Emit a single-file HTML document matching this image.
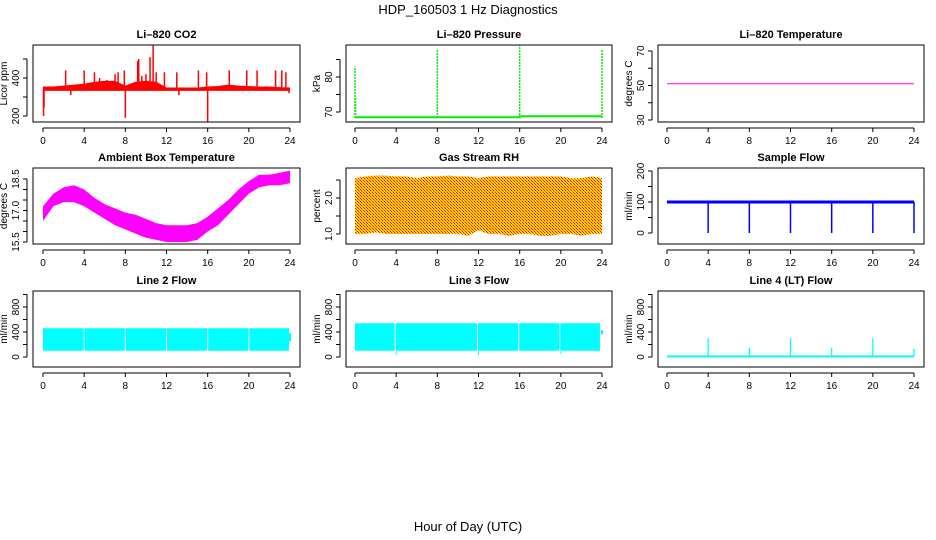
<!DOCTYPE html>
<html><head><meta charset="utf-8"><style>
html,body{margin:0;padding:0;background:#fff}
svg{display:block;font-family:"Liberation Sans",Arial,sans-serif}
</style></head><body>
<svg id="chart" width="936" height="540" viewBox="0 0 936 540" xmlns="http://www.w3.org/2000/svg">
<defs>
<pattern id="rhpat" width="3" height="3" patternUnits="userSpaceOnUse">
<rect width="3" height="3" fill="#ffdd00"/><rect width="1" height="1" fill="#ff0000"/><rect x="1" y="1" width="1" height="1" fill="#ff0000"/><rect x="2" y="2" width="1" height="1" fill="#ff6600"/>
</pattern>
</defs>
<text x="468" y="14" font-size="13" text-anchor="middle">HDP_160503  1 Hz Diagnostics</text>
<text x="468" y="531" font-size="13" text-anchor="middle">Hour of Day (UTC)</text>
<g id="panels"></g>
</svg>
<script>
// ---- data ----
const hourTicks = [0,4,8,12,16,20,24];
const co2Base = 340;
const co2SpikeHours = [0.05,0.1,2.2,2.7,4,5,5.5,6.2,7,7.3,7.9,8,9.2,9.3,9.6,10,10.4,10.7,11,11.8,13,13.2,15.1,15.9,16,18.1,19.8,20.8,22.6,23.2,23.6,23.9];
const co2SpikeValues = [200,245,440,310,440,430,400,390,420,430,440,190,490,500,410,420,510,570,430,430,430,310,440,430,170,440,440,440,440,440,430,320];
const co2UpperHours = [0,1,2,3,4,5,6,7,8,9,10,11,12,13,14,15,16,17,18,19,20,21,22,23,24];
const co2UpperValues = [355,355,360,365,370,380,385,385,360,380,385,380,350,350,350,350,355,358,365,360,358,355,355,352,350];
const presHours = [0,16,16,24];
const presValues = [68.5,68.5,68.8,68.8];
const presSpikeHours = [0,0.05,8,16,24];
const presSpikeValues = [83,74,88,89,88];
const tempValue = 51;
const ambHours = [0,1,2,3,4,5,6,7,8,9,10,11,12,13,14,15,16,17,18,19,20,21,22,23,24];
const ambMin = [16.5,17.2,17.4,17.4,17.2,16.9,16.6,16.3,16.1,15.9,15.7,15.6,15.5,15.5,15.5,15.6,16.0,16.3,16.8,17.3,17.8,18.1,18.2,18.2,18.3];
const ambMax = [17.2,17.8,18.1,18.2,18.0,17.6,17.3,17.1,16.9,16.8,16.6,16.4,16.3,16.3,16.3,16.4,16.7,17.1,17.5,18.0,18.4,18.7,18.7,18.8,18.9];
const rhHours = [0,1,2,3,4,5,6,7,8,9,10,11,12,13,14,15,16,17,18,19,20,21,22,23,24];
const rhUpper = [2.55,2.6,2.62,2.62,2.6,2.6,2.55,2.6,2.6,2.62,2.6,2.6,2.55,2.6,2.6,2.6,2.6,2.6,2.6,2.6,2.6,2.55,2.55,2.6,2.55];
const rhLower = [1.0,1.0,1.05,1.0,1.0,1.0,1.0,1.0,1.0,1.0,1.0,0.95,1.1,1.0,1.0,0.95,1.0,1.0,0.95,0.95,1.0,1.0,0.95,1.0,1.0];
const flowBase = 100;
const flowDropHours = [4,8,12,16,20,24];
const flowDropValues = [0,0,0,0,0,0];
const line2Low = 100, line2High = 460;
const line2GapHours = [4,8,12,16,20];
const line3Low = 100, line3High = 540;
const line3GapHours = [4,12,16,20];
const line3DipValues = [30,30,100,50];
const line4Base = 10;
const line4SpikeHours = [4,8,12,16,20,24];
const line4SpikeValues = [300,150,300,150,300,130];

// ---- helpers ----
const NS = "http://www.w3.org/2000/svg";
const root = document.getElementById('panels');
function mk(tag, attrs, parent){const e=document.createElementNS(NS,tag);for(const k in attrs)e.setAttribute(k,attrs[k]);(parent||root).appendChild(e);return e;}
const cols = [{bx0:33,bx1:300,x0:43,x24:290},{bx0:346,bx1:612,x0:355,x24:602},{bx0:658,bx1:924,x0:667,x24:914}];
const rows = [{by0:45,by1:122},{by0:168,by1:244},{by0:291,by1:367}];

function panel(name, title, ci, ri, ylab, yA, pA, yB, pB, ticks, labels){
  const c=cols[ci], r=rows[ri];
  const g=mk('g',{});
  
  
  const X=h=>c.x0+(h/24)*(c.x24-c.x0);
  const Y=v=>pA+(v-yA)*(pB-pA)/(yB-yA);
  const t=mk('text',{x:(c.bx0+c.bx1)/2,y:r.by0-7,'font-size':11,'font-weight':'bold','text-anchor':'middle'},g);
  t.textContent=title;
  
  
  const ax=mk('g',{stroke:'#000','stroke-width':1,fill:'none'},g);
  
  
  const ay=r.by1+6;
  mk('line',{x1:X(0),x2:X(24),y1:ay,y2:ay},ax);
  hourTicks.forEach(h=>{
    mk('line',{x1:X(h),x2:X(h),y1:ay,y2:ay+4},ax);
    const tl=mk('text',{x:X(h),y:ay+16,'font-size':10,'text-anchor':'middle',fill:'#000',stroke:'none'},g);
    tl.textContent=h;
    
    
  });
  const yax=mk('g',{stroke:'#000','stroke-width':1,fill:'none'},g);
  
  
  const axx=c.bx0-6;
  mk('line',{x1:axx,x2:axx,y1:Y(ticks[0]),y2:Y(ticks[ticks.length-1])},yax);
  ticks.forEach(v=>mk('line',{x1:axx-4,x2:axx,y1:Y(v),y2:Y(v)},yax));
  labels.forEach(v=>{
    const tl=mk('text',{x:0,y:0,'font-size':10,'text-anchor':'middle',transform:`translate(${axx-8},${Y(parseFloat(v))}) rotate(-90)`},g);
    tl.textContent=v;
    
    
  });
  const yl=mk('text',{x:0,y:0,'font-size':10,'text-anchor':'middle',transform:`translate(${axx-20},${(r.by0+r.by1)/2}) rotate(-90)`},g);
  yl.textContent=ylab;
  
  
  const data=mk('g',{},g);
  
  
  const box=mk('rect',{x:c.bx0,y:r.by0,width:c.bx1-c.bx0,height:r.by1-r.by0,fill:'none',stroke:'#000','stroke-width':1},g);
  
  
  return {X,Y,data};
}
function band(p,hours,lo,hi,fill){
  let d='M'+hours.map((h,i)=>p.X(h)+','+p.Y(hi[i])).join('L');
  d+='L'+hours.slice().reverse().map((h,i)=>p.X(h)+','+p.Y(lo[hours.length-1-i])).join('L')+'Z';
  return mk('path',{d,fill,stroke:'none'},p.data);
}

// CO2
let p=panel('co2','Li\u2013820 CO2',0,0,'Licor ppm',200,116,400,78,[200,300,400,500],['200','400']);
band(p,co2UpperHours,co2UpperHours.map(()=>co2Base-5),co2UpperValues,'#ff0000');
mk('line',{x1:p.X(0),x2:p.X(24),y1:p.Y(co2Base),y2:p.Y(co2Base),stroke:'#ff0000','stroke-width':3},p.data);
co2SpikeHours.forEach((h,i)=>{const s=mk('line',{x1:p.X(h),x2:p.X(h),y1:p.Y(co2Base),y2:p.Y(co2SpikeValues[i]),stroke:'#ff0000','stroke-width':1.5},p.data);});

// Pressure
p=panel('pressure','Li\u2013820 Pressure',1,0,'kPa',70,112,80,77,[70,75,80,85],['70','80']);
mk('path',{d:'M'+presHours.map((h,i)=>p.X(h)+','+p.Y(presValues[i])).join('L'),stroke:'#00ee00','stroke-width':2,fill:'none'},p.data);
presSpikeHours.forEach((h,i)=>{const s=mk('line',{x1:p.X(h),x2:p.X(h),y1:p.Y(68.3),y2:p.Y(presSpikeValues[i]),stroke:'#00ee00','stroke-width':1.5,'stroke-dasharray':'2,1'},p.data);});

// Li-820 Temperature
p=panel('li820-temp','Li\u2013820 Temperature',2,0,'degrees C',30,120,70,51,[30,40,50,60,70],['30','50','70']);
mk('line',{x1:p.X(0),x2:p.X(24),y1:p.Y(tempValue),y2:p.Y(tempValue),stroke:'#ff00ff','stroke-width':1},p.data);

// Ambient
p=panel('ambient-temp','Ambient Box Temperature',0,1,'degrees C',15.5,242,18.5,179,[15.5,16,16.5,17,17.5,18,18.5],['15.5','17.0','18.5']);
band(p,ambHours,ambMin,ambMax,'#ff00ff');

// RH
p=panel('gas-rh','Gas Stream RH',1,1,'percent',1.0,234,2.0,198,[1.0,1.5,2.0,2.5],['1.0','2.0']);
band(p,rhHours,rhLower,rhUpper,'url(#rhpat)');

// Sample flow
p=panel('sample-flow','Sample Flow',2,1,'ml/min',0,233,200,171,[0,50,100,150,200],['0','100','200']);
mk('line',{x1:p.X(0),x2:p.X(24),y1:p.Y(flowBase),y2:p.Y(flowBase),stroke:'#0000ff','stroke-width':3},p.data);
flowDropHours.forEach((h,i)=>{const s=mk('line',{x1:p.X(h),x2:p.X(h),y1:p.Y(flowBase),y2:p.Y(flowDropValues[i]),stroke:'#0000ff','stroke-width':1.5},p.data);});

// Line 2
p=panel('line2-flow','Line 2 Flow',0,2,'ml/min',0,357,800,307,[0,200,400,600,800,1000],['0','400','800']);
mk('rect',{x:p.X(0),y:p.Y(line2High),width:p.X(23.9)-p.X(0),height:p.Y(line2Low)-p.Y(line2High),fill:'#00ffff'},p.data);
line2GapHours.forEach(h=>mk('line',{x1:p.X(h),x2:p.X(h),y1:p.Y(line2High),y2:p.Y(line2Low),stroke:'#fff','stroke-width':1},p.data));
mk('line',{x1:p.X(24),x2:p.X(24),y1:p.Y(380),y2:p.Y(250),stroke:'#00ffff','stroke-width':2},p.data);

// Line 3
p=panel('line3-flow','Line 3 Flow',1,2,'ml/min',0,357,800,307,[0,200,400,600,800,1000],['0','400','800']);
mk('rect',{x:p.X(0),y:p.Y(line3High),width:p.X(23.8)-p.X(0),height:p.Y(line3Low)-p.Y(line3High),fill:'#00ffff'},p.data);
line3GapHours.forEach((h,i)=>{mk('line',{x1:p.X(h)-1,x2:p.X(h)-1,y1:p.Y(line3High),y2:p.Y(line3Low),stroke:'#fff','stroke-width':1},p.data);mk('line',{x1:p.X(h),x2:p.X(h),y1:p.Y(line3Low),y2:p.Y(line3DipValues[i]),stroke:'#00ffff','stroke-width':1},p.data);});
mk('line',{x1:p.X(24),x2:p.X(24),y1:p.Y(430),y2:p.Y(360),stroke:'#00ffff','stroke-width':2},p.data);

// Line 4
p=panel('line4-flow','Line 4 (LT) Flow',2,2,'ml/min',0,357,800,307,[0,200,400,600,800,1000],['0','400','800']);
mk('line',{x1:p.X(0),x2:p.X(24),y1:p.Y(line4Base),y2:p.Y(line4Base),stroke:'#00ffff','stroke-width':2},p.data);
line4SpikeHours.forEach((h,i)=>{const s=mk('line',{x1:p.X(h),x2:p.X(h),y1:p.Y(line4Base),y2:p.Y(line4SpikeValues[i]),stroke:'#00ffff','stroke-width':1.3},p.data);});
</script>
</body></html>
